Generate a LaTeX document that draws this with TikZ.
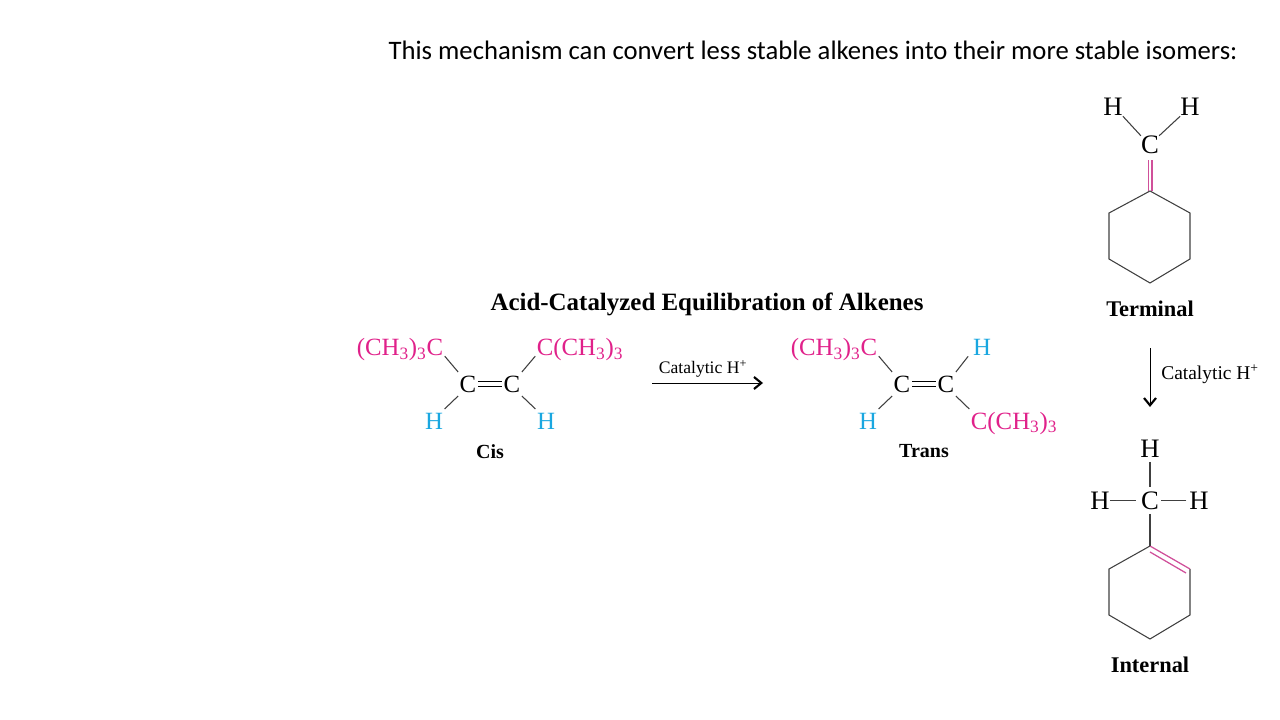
\documentclass[tikz,border=0pt]{standalone}
\usepackage{fontspec}
\setmainfont{Liberation Serif}
\newfontfamily\slidefont{Carlito}
\usetikzlibrary{positioning,arrows.meta}
\definecolor{grouppink}{HTML}{E0218A}
\definecolor{bondpink}{HTML}{D0509A}
\definecolor{hblue}{HTML}{1AA7E0}
\definecolor{bondgrey}{HTML}{404040}

\begin{document}
\begin{tikzpicture}[x=0.75pt,y=-0.75pt,on grid,
    atom/.style={inner xsep=1pt,inner ysep=2.5pt,text height=12.6pt,text depth=0pt,font=\fontsize{18.6}{18.6}\selectfont},
    pink node/.style={atom,text=grouppink,inner ysep=0pt},
    blue node/.style={atom,text=hblue},
    big atom/.style={inner sep=0pt,text height=13.5pt,text depth=0pt,font=\fontsize{20}{20}\selectfont},
    caption node/.style={font=\fontsize{15}{15}\selectfont\bfseries,inner sep=0pt},
    side caption/.style={font=\fontsize{16.8}{16.8}\selectfont\bfseries,inner sep=0pt},
    bond/.style={bondgrey,line width=0.8pt},
    double bond/.style={black,line width=0.7pt,double,double distance=3.2pt},
    pink bond/.style={bondpink,line width=0.95pt},
    reaction/.style={black,line width=0.75pt,-{Straight Barb[length=5.5pt,width=9pt,line width=1.6pt]}}]
    \useasboundingbox (0,0) rectangle (1280,720);
    \node[font=\slidefont\fontsize{20}{20}\selectfont,inner sep=0pt] (title) at (813,50) {This mechanism can convert less stable alkenes into their more stable isomers:};
    \node[font=\fontsize{18.7}{18.7}\selectfont\bfseries,inner sep=0pt] (heading) at (707,304.5) {Acid-Catalyzed Equilibration of Alkenes};

    % cis
    \node[atom] (cisL) at (468,384) {C};
    \node[atom] (cisR) [right=33pt of cisL] {C};
    \node[pink node] (cisTL) [above left=27.4pt and 51pt of cisL] {(CH\textsubscript{3})\textsubscript{3}C};
    \node[pink node] (cisTR) [above right=27.4pt and 51pt of cisR] {C(CH\textsubscript{3})\textsubscript{3}};
    \node[blue node] (cisBL) [below left=27.75pt and 25.5pt of cisL] {H};
    \node[blue node] (cisBR) [below right=27.75pt and 25.5pt of cisR] {H};
    \node[caption node] (cisName) at (490,451.5) {Cis};
    \draw[double bond] (cisL) -- (cisR);
    \draw[bond] (cisTL.south east) -- (cisL.north west);
    \draw[bond] (cisTR.south west) -- (cisR.north east);
    \draw[bond] (cisBL.north east) -- (cisL.south west);
    \draw[bond] (cisBR.north west) -- (cisR.south east);

    % arrow between the alkenes
    \coordinate (arrowA) at (652,383);
    \coordinate (arrowB) at (763,383);
    \node[font=\fontsize{13.2}{13.2}\selectfont,inner sep=0pt] (catA) at (703,369) {Catalytic H\textsuperscript{+}};
    \draw[reaction] (arrowA) -- (arrowB);

    % trans
    \node[atom] (transL) at (902,384) {C};
    \node[atom] (transR) [right=33pt of transL] {C};
    \node[pink node] (transTL) [above left=27.4pt and 51pt of transL] {(CH\textsubscript{3})\textsubscript{3}C};
    \node[blue node,inner xsep=3.5pt,inner ysep=0.5pt] (transTR) [above right=27.75pt and 27pt of transR] {H};
    \node[blue node] (transBL) [below left=27.75pt and 25.5pt of transL] {H};
    \node[pink node,inner ysep=2.5pt] (transBR) [below right=27.75pt and 51pt of transR] {C(CH\textsubscript{3})\textsubscript{3}};
    \node[caption node] (transName) at (924,451.5) {Trans};
    \draw[double bond] (transL) -- (transR);
    \draw[bond] (transTL.south east) -- (transL.north west);
    \draw[bond] (transTR.south west) -- (transR.north east);
    \draw[bond] (transBL.north east) -- (transL.south west);
    \draw[bond] (transBR.north west) -- (transR.south east);

    % terminal
    \node[big atom] (termC) at (1150,145) {C};
    \node[big atom] (termHL) at (1113,107) {H};
    \node[big atom] (termHR) at (1190,107) {H};
    \coordinate (t1) at (1150,191);
    \coordinate (t2) at (1190,213);
    \coordinate (t3) at (1190,259);
    \coordinate (t4) at (1150,283);
    \coordinate (t5) at (1109,259);
    \coordinate (t6) at (1109,213);
    \draw[bond] (t1) -- (t2) -- (t3) -- (t4) -- (t5) -- (t6) -- cycle;
    \draw[bond] (termHL.south east) -- (termC.north west);
    \draw[bond] (termHR.south west) -- (termC.north east);
    \draw[pink bond,shorten <=4.5pt] ([xshift=-1.4pt]termC.south) -- ([xshift=-1.4pt]t1);
    \draw[pink bond,shorten <=4.5pt] ([xshift=1.4pt]termC.south) -- ([xshift=1.4pt]t1);
    \node[side caption] (termName) at (1150,308.5) {Terminal};

    % arrow between the cyclohexanes
    \coordinate (arrowC) at (1150,348);
    \coordinate (arrowD) at (1150,407);
    \node[font=\fontsize{14.6}{14.6}\selectfont,inner sep=0pt,anchor=west] (catB) at (1161,374) {Catalytic H\textsuperscript{+}};
    \draw[reaction] (arrowC) -- (arrowD);

    % internal
    \node[big atom] (intC) at (1150,500.5) {C};
    \node[big atom] (intHT) at (1150,448.5) {H};
    \node[big atom] (intHL) at (1100,500.5) {H};
    \node[big atom] (intHR) at (1199,500.5) {H};
    \coordinate (i1) at (1150,546);
    \coordinate (i2) at (1190,569);
    \coordinate (i3) at (1190,615);
    \coordinate (i4) at (1150,639);
    \coordinate (i5) at (1109,615);
    \coordinate (i6) at (1109,569);
    \coordinate (i7) at (1150,552);
    \coordinate (i8) at (1186,573);
    \draw[bond] (i2) -- (i3) -- (i4) -- (i5) -- (i6) -- (i1);
    \draw[pink bond] (i1) -- (i2);
    \draw[pink bond] (i7) -- (i8);
    \draw[bond,shorten <=3pt,shorten >=3pt] (intHT) -- (intC);
    \draw[bond,shorten >=3.5pt] (intHL) -- (intC);
    \draw[bond,shorten <=2pt,shorten >=1pt] (intHR) -- (intC);
    \draw[bond,shorten <=3pt] (intC) -- (i1);
    \node[side caption] (intName) at (1150,664.5) {Internal};
\end{tikzpicture}
\end{document}
